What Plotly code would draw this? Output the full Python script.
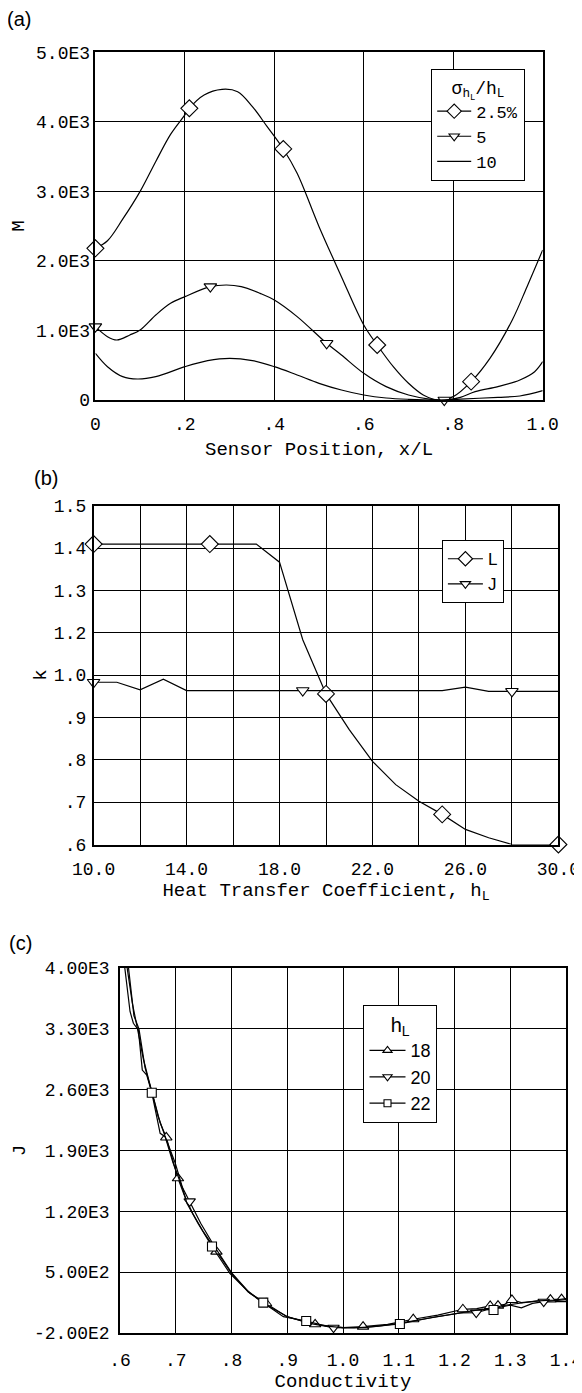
import plotly.graph_objects as go

# ---------------- Panel (a): M vs sensor position ----------------
a_x_25 = [0.0, 0.027, 0.061, 0.10, 0.135, 0.168, 0.20, 0.21, 0.243, 0.283, 0.318, 0.351, 0.384, 0.42,
          0.451, 0.50, 0.55, 0.60, 0.63, 0.666, 0.70, 0.733, 0.766, 0.80, 0.84, 0.882, 0.932, 0.965, 1.0]
a_y_25 = [2181, 2290, 2600, 3000, 3430, 3820, 4100, 4195, 4387, 4468, 4434, 4219, 3931, 3610,
          3260, 2493, 1774, 1079, 791, 479, 240, 72, 0, 48, 264, 599, 1151, 1630, 2157]
a_mark_25 = [0.0, 0.21, 0.42, 0.63, 0.84]

a_x_5 = [0.0, 0.027, 0.048, 0.077, 0.10, 0.135, 0.168, 0.20, 0.257, 0.293, 0.326, 0.368, 0.40, 0.451,
         0.517, 0.55, 0.60, 0.65, 0.70, 0.75, 0.78, 0.816, 0.849, 0.90, 0.949, 0.982, 1.0]
a_y_5 = [1055, 911, 863, 935, 1007, 1222, 1390, 1486, 1630, 1654, 1630, 1534, 1438, 1199,
         815, 647, 384, 192, 72, 10, 0, 38, 120, 192, 288, 407, 551]
a_mark_5 = [0.0, 0.257, 0.517, 0.78]

a_x_10 = [0.0, 0.027, 0.061, 0.094, 0.135, 0.20, 0.251, 0.30, 0.351, 0.40, 0.451, 0.50, 0.55, 0.60,
          0.65, 0.70, 0.766, 0.816, 0.90, 0.949, 1.0]
a_y_10 = [671, 479, 336, 302, 336, 479, 566, 600, 566, 479, 360, 240, 144, 72,
          29, 10, 0, 14, 38, 58, 134]

a_xtickvals = [0.0, 0.2, 0.4, 0.6, 0.8, 1.0]
a_xticktext = ["0", ".2", ".4", ".6", ".8", "1.0"]
a_ytickvals = [0, 1000, 2000, 3000, 4000, 5000]
a_yticktext = ["0", "1.0E3", "2.0E3", "3.0E3", "4.0E3", "5.0E3"]

# ---------------- Panel (b): k vs heat transfer coefficient ----------------
b_h = [10, 11, 12, 13, 14, 15, 16, 17, 18, 19, 20, 21, 22, 23, 24, 25, 26, 27, 28, 29, 30]
b_L = [1.398, 1.398, 1.398, 1.398, 1.398, 1.398, 1.398, 1.398, 1.350, 1.144, 1.000, 0.905, 0.821,
       0.759, 0.715, 0.680, 0.640, 0.618, 0.600, 0.600, 0.600]
b_J = [1.031, 1.031, 1.011, 1.039, 1.009, 1.009, 1.009, 1.009, 1.009, 1.009, 1.009, 1.009, 1.009,
       1.009, 1.009, 1.009, 1.018, 1.007, 1.007, 1.007, 1.007]
b_mark_L = [10, 15, 20, 25, 30]
b_mark_J = [10, 19, 28]
b_xtickvals = [10, 14, 18, 22, 26, 30]
b_xticktext = ["10.0", "14.0", "18.0", "22.0", "26.0", "30.0"]
b_xminor = [12, 16, 20, 24, 28]
b_yticktext = [".6", ".7", ".8", ".9", "1.0", "1.2", "1.3", "1.4", "1.5"]

# ---------------- Panel (c): J vs conductivity ----------------
c_x_18 = [0.606, 0.622, 0.632, 0.642, 0.652, 0.662, 0.672, 0.683, 0.694, 0.704, 0.715, 0.73, 0.75,
          0.773, 0.80, 0.83, 0.862, 0.90, 0.95, 1.0, 1.036, 1.08, 1.126, 1.17, 1.215, 1.24, 1.264,
          1.278, 1.29, 1.303, 1.32, 1.34, 1.36, 1.372, 1.392, 1.40]
c_y_18 = [4300, 3600, 3280, 2950, 2700, 2450, 2220, 2050, 1790, 1580, 1390, 1180, 960,
          736, 487, 270, 142, -15, -100, -138, -127, -100, -42, 5, 73, 80, 111,
          115, 130, 180, 150, 165, 175, 185, 190, 188]
c_mark_18 = [0.683, 0.704, 0.773, 0.862, 0.95, 1.036, 1.126, 1.215, 1.264, 1.278, 1.303, 1.372, 1.392]

c_x_20 = [0.610, 0.625, 0.634, 0.645, 0.656, 0.668, 0.68, 0.695, 0.71, 0.725, 0.745, 0.77, 0.80,
          0.83, 0.86, 0.90, 0.94, 0.983, 1.02, 1.06, 1.10, 1.14, 1.18, 1.21, 1.239, 1.26, 1.28,
          1.30, 1.32, 1.34, 1.36, 1.38, 1.40]
c_y_20 = [4300, 3450, 3300, 2850, 2600, 2300, 2080, 1760, 1500, 1315, 1060, 790, 495,
          280, 130, -10, -90, -139, -140, -125, -90, -45, 0, 30, 34, 70, 95,
          120, 90, 140, 160, 175, 185]
c_mark_20 = [0.725, 0.983, 1.239, 1.36]

c_x_22 = [0.603, 0.618, 0.624, 0.633, 0.640, 0.648, 0.657, 0.672, 0.681, 0.699, 0.708, 0.72, 0.74,
          0.765, 0.797, 0.833, 0.857, 0.893, 0.934, 0.97, 1.0, 1.04, 1.102, 1.13, 1.162, 1.20,
          1.222, 1.25, 1.270, 1.282, 1.317, 1.35, 1.38, 1.40]
c_y_22 = [4300, 3500, 3364, 3287, 2826, 2769, 2565, 2098, 2059, 1756, 1561, 1293, 1060,
          795, 487, 257, 149, -12, -62, -120, -139, -135, -96, -60, -19, 20,
          45, 75, 65, 111, 142, 170, 180, 195]
c_mark_22 = [0.657, 0.765, 0.857, 0.934, 1.102, 1.270]

c_xtickvals = [0.6, 0.7, 0.8, 0.9, 1.0, 1.1, 1.2, 1.3, 1.4]
c_xticktext = [".6", ".7", ".8", ".9", "1.0", "1.1", "1.2", "1.3", "1.4"]
c_ytickvals = [-200, 500, 1200, 1900, 2600, 3300, 4000]
c_yticktext = ["-2.00E2", "5.00E2", "1.20E3", "1.90E3", "2.60E3", "3.30E3", "4.00E3"]

# ---------------- helpers ----------------
PAGE_W, PAGE_H = 582, 1393
OFF = 8                      # default body margin of the page
W, H = PAGE_W - OFF, PAGE_H - OFF
MONO = "Liberation Mono"
SANS = "Liberation Sans"
BLACK = "black"
TICK = 18
TITLE = 19


def pick(xs, ys, marks):
    mx, my = [], []
    for m in marks:
        i = min(range(len(xs)), key=lambda k: abs(xs[k] - m))
        mx.append(xs[i])
        my.append(ys[i])
    return mx, my


fig = go.Figure()


def add_series(xs, ys, marks, symbol, size, name, xa, ya, legend, shape="linear"):
    fig.add_trace(go.Scatter(x=xs, y=ys, mode="lines", xaxis=xa, yaxis=ya, showlegend=False,
                             line=dict(color=BLACK, width=1.2, shape=shape), hoverinfo="skip"))
    if marks:
        mx, my = pick(xs, ys, marks)
        fig.add_trace(go.Scatter(x=mx, y=my, mode="markers", xaxis=xa, yaxis=ya, showlegend=False,
                                 cliponaxis=False,
                                 marker=dict(symbol=symbol, size=size, color="white",
                                             line=dict(color=BLACK, width=1.1))))
        fig.add_trace(go.Scatter(x=[None], y=[None], mode="lines+markers", xaxis=xa, yaxis=ya,
                                 name=name, legend=legend,
                                 line=dict(color=BLACK, width=1.2),
                                 marker=dict(symbol=symbol, size=size - 2, color="white",
                                             line=dict(color=BLACK, width=1.1))))
    else:
        fig.add_trace(go.Scatter(x=[None], y=[None], mode="lines", xaxis=xa, yaxis=ya,
                                 name=name, legend=legend, line=dict(color=BLACK, width=1.2)))


# panel a
add_series(a_x_25, a_y_25, a_mark_25, "diamond", 13, "2.5%", "x", "y", "legend", "spline")
add_series(a_x_5, a_y_5, a_mark_5, "triangle-down", 11, "5", "x", "y", "legend", "spline")
add_series(a_x_10, a_y_10, None, None, 0, "10", "x", "y", "legend", "spline")
# panel b
add_series(b_h, b_L, b_mark_L, "diamond", 13, "L", "x2", "y2", "legend2")
add_series(b_h, b_J, b_mark_J, "triangle-down", 11, "J", "x2", "y2", "legend2")
# panel c
add_series(c_x_18, c_y_18, c_mark_18, "triangle-up", 10, "18", "x3", "y3", "legend3")
add_series(c_x_20, c_y_20, c_mark_20, "triangle-down", 10, "20", "x3", "y3", "legend3")
add_series(c_x_22, c_y_22, c_mark_22, "square", 9, "22", "x3", "y3", "legend3")


def px_x(p):
    return (p - OFF) / W


def px_y(p):
    return 1 - (p - OFF) / H


axis_common = dict(showline=True, mirror=True, linecolor=BLACK, linewidth=1.5,
                   showgrid=True, gridcolor=BLACK, gridwidth=1, zeroline=False,
                   ticks="", tickfont=dict(family=MONO, size=TICK, color=BLACK),
                   tickmode="array", automargin=False, ticklabeloverflow="allow")

b_range = [0.6, 1.5]
b_ytickvals = [b_range[0] + i * (b_range[1] - b_range[0]) / (len(b_yticktext) - 1)
               for i in range(len(b_yticktext))]

fig.update_layout(
    width=W, height=H, margin=dict(l=0, r=0, t=0, b=0, autoexpand=False),
    paper_bgcolor="white", plot_bgcolor="white",
    font=dict(family=MONO, color=BLACK),
    xaxis=dict(axis_common, domain=[px_x(95.4), px_x(542.7)], anchor="y", range=[0, 1],
               tickvals=a_xtickvals, ticktext=a_xticktext, ticklabelstandoff=7,
               title=dict(text="Sensor Position, x/L", font=dict(family=MONO, size=TITLE), standoff=7)),
    yaxis=dict(axis_common, domain=[px_y(400), px_y(52.3)], anchor="x", range=[0, 5000],
               tickvals=a_ytickvals, ticktext=a_yticktext, ticklabelstandoff=0,
               title=dict(text="M", font=dict(family=MONO, size=TITLE), standoff=6)),
    xaxis2=dict(axis_common, domain=[px_x(93.6), px_x(558.4)], anchor="y2", range=[10, 30],
                tickvals=b_xtickvals, ticktext=b_xticktext, ticklabelstandoff=7,
                minor=dict(tickmode="array", tickvals=b_xminor, showgrid=True,
                           gridcolor=BLACK, gridwidth=1, ticks=""),
                title=dict(text="Heat Transfer Coefficient, h<sub>L</sub>",
                           font=dict(family=MONO, size=TITLE), standoff=4)),
    yaxis2=dict(axis_common, domain=[px_y(844.5), px_y(505.7)], anchor="x2", range=b_range,
                tickvals=b_ytickvals, ticktext=b_yticktext, ticklabelstandoff=2,
                title=dict(text="k", font=dict(family=MONO, size=TITLE), standoff=2)),
    xaxis3=dict(axis_common, domain=[px_x(120), px_x(566)], anchor="y3", range=[0.6, 1.4],
                tickvals=c_xtickvals, ticktext=c_xticktext, ticklabelstandoff=10,
                title=dict(text="Conductivity", font=dict(family=MONO, size=TITLE), standoff=4)),
    yaxis3=dict(axis_common, domain=[px_y(1333), px_y(968)], anchor="x3", range=[-200, 4000],
                tickvals=c_ytickvals, ticktext=c_yticktext, ticklabelstandoff=5,
                title=dict(text="J", font=dict(family=MONO, size=TITLE), standoff=3)),
    legend=dict(x=px_x(431), y=px_y(69), xanchor="left", yanchor="top",
                bgcolor="white", bordercolor=BLACK, borderwidth=1.2, itemwidth=34,
                font=dict(family=MONO, size=17, color=BLACK), tracegroupgap=0,
                title=dict(text="σ<sub>h<sub>L</sub></sub>/h<sub>L</sub>",
                           font=dict(family=MONO, size=18), side="top center")),
    legend2=dict(x=px_x(441.7), y=px_y(540), xanchor="left", yanchor="top",
                 bgcolor="white", bordercolor=BLACK, borderwidth=1.2, itemwidth=35,
                 font=dict(family=SANS, size=17, color=BLACK)),
    legend3=dict(x=px_x(363.3), y=px_y(1005), xanchor="left", yanchor="top",
                 bgcolor="white", bordercolor=BLACK, borderwidth=1.2, itemwidth=36,
                 font=dict(family=SANS, size=18, color=BLACK),
                 title=dict(text="h<sub>L</sub>", font=dict(family=SANS, size=20), side="top center")),
    annotations=[
        dict(text="(a)", x=px_x(19), y=px_y(19), xref="paper", yref="paper", showarrow=False,
             xanchor="center", yanchor="middle", font=dict(family=SANS, size=20, color=BLACK)),
        dict(text="(b)", x=px_x(46), y=px_y(478), xref="paper", yref="paper", showarrow=False,
             xanchor="center", yanchor="middle", font=dict(family=SANS, size=20, color=BLACK)),
        dict(text="(c)", x=px_x(20), y=px_y(943), xref="paper", yref="paper", showarrow=False,
             xanchor="center", yanchor="middle", font=dict(family=SANS, size=20, color=BLACK)),
    ],
)

fig.write_html("out.html")
